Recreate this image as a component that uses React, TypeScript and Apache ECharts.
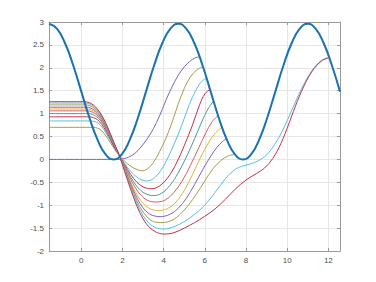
import React, { useEffect, useRef } from "react";
import * as echarts from "echarts";

const X_MIN = -1.5708;
const X_MAX = 12.5664;

const yTicks = { min: -2, max: 3, step: 0.5 };

const blueX = [-1.5708, -1.1781, -0.7854, -0.3927, 0, 0.3927, 0.7854, 1.1781, 1.5708, 1.9635, 2.3562, 2.7489, 3.1416, 3.5343, 3.927, 4.3197, 4.7124, 5.1051, 5.4978, 5.8905, 6.2832, 6.6759, 7.0686, 7.4613, 7.854, 8.2467, 8.6394, 9.0321, 9.4248, 9.8175, 10.2102, 10.6029, 10.9956, 11.3883, 11.781, 12.1737, 12.5664];
const blueY = [2.96, 2.85, 2.53, 2.05, 1.48, 0.91, 0.43, 0.11, 0, 0.11, 0.43, 0.91, 1.48, 2.05, 2.53, 2.85, 2.96, 2.85, 2.53, 2.05, 1.48, 0.91, 0.43, 0.11, 0, 0.11, 0.43, 0.91, 1.48, 2.05, 2.53, 2.85, 2.96, 2.85, 2.53, 2.05, 1.48];

const curve1 = [[-1.5708, 0], [1.75, 0], [2.0, 0.01], [2.3, 0.05], [2.6, 0.13], [2.9, 0.27], [3.2, 0.45], [3.5, 0.67], [3.8, 0.95], [4.1, 1.28], [4.4, 1.58], [4.7, 1.83], [5.0, 2.02], [5.3, 2.15], [5.5, 2.21], [5.74, 2.24]];
const curve2 = [[-1.5708, 0.7], [0.55, 0.7], [0.8, 0.68], [1.0, 0.62], [1.2, 0.51], [1.4, 0.37], [1.6, 0.23], [1.85, 0.08], [2.1, -0.04], [2.4, -0.15], [2.7, -0.22], [2.94, -0.25], [3.2, -0.21], [3.5, -0.07], [3.8, 0.17], [4.1, 0.45], [4.4, 0.8], [4.7, 1.2], [5.0, 1.55], [5.3, 1.8], [5.6, 1.95], [5.9, 2.02]];
const curve3 = [[-1.5708, 0.84], [0.45, 0.84], [0.7, 0.82], [0.9, 0.76], [1.1, 0.65], [1.3, 0.5], [1.5, 0.34], [1.7, 0.19], [1.85, 0.08], [2.1, -0.09], [2.4, -0.26], [2.7, -0.39], [2.95, -0.45], [3.18, -0.47], [3.5, -0.42], [3.85, -0.25], [4.2, 0.03], [4.55, 0.38], [4.9, 0.77], [5.25, 1.2], [5.55, 1.5], [5.8, 1.68], [6.07, 1.78]];
const curve4 = [[-1.5708, 0.93], [0.38, 0.93], [0.6, 0.91], [0.8, 0.86], [1.0, 0.76], [1.2, 0.62], [1.4, 0.45], [1.6, 0.27], [1.85, 0.08], [2.1, -0.11], [2.4, -0.33], [2.7, -0.5], [3.0, -0.6], [3.2, -0.63], [3.43, -0.64], [3.8, -0.58], [4.2, -0.4], [4.6, -0.1], [5.0, 0.3], [5.4, 0.75], [5.75, 1.2], [6.0, 1.43], [6.25, 1.53]];
const curve5 = [[-1.5708, 1.0], [0.33, 1.0], [0.55, 0.98], [0.75, 0.93], [0.95, 0.84], [1.15, 0.7], [1.35, 0.53], [1.6, 0.3], [1.85, 0.08], [2.1, -0.14], [2.4, -0.39], [2.7, -0.59], [3.0, -0.72], [3.3, -0.78], [3.51, -0.79], [3.9, -0.74], [4.3, -0.57], [4.7, -0.3], [5.1, 0.05], [5.5, 0.45], [5.85, 0.82], [6.15, 1.1], [6.42, 1.27]];
const curve6 = [[-1.5708, 1.06], [0.29, 1.06], [0.5, 1.04], [0.7, 0.99], [0.9, 0.9], [1.1, 0.77], [1.3, 0.6], [1.55, 0.37], [1.85, 0.08], [2.1, -0.16], [2.4, -0.44], [2.7, -0.67], [3.0, -0.83], [3.3, -0.91], [3.67, -0.93], [4.1, -0.88], [4.5, -0.72], [4.9, -0.47], [5.3, -0.13], [5.7, 0.25], [6.05, 0.58], [6.35, 0.82], [6.65, 0.96]];
const curve7 = [[-1.5708, 1.1], [0.26, 1.1], [0.48, 1.08], [0.68, 1.03], [0.88, 0.94], [1.08, 0.81], [1.3, 0.63], [1.55, 0.39], [1.85, 0.08], [2.1, -0.18], [2.4, -0.5], [2.7, -0.77], [3.0, -0.96], [3.3, -1.07], [3.55, -1.11], [3.75, -1.12], [4.2, -1.07], [4.6, -0.93], [5.0, -0.68], [5.4, -0.33], [5.8, 0.05], [6.2, 0.38], [6.5, 0.57], [6.83, 0.7]];
const curve8 = [[-1.5708, 1.14], [0.23, 1.14], [0.45, 1.12], [0.65, 1.07], [0.85, 0.98], [1.05, 0.85], [1.25, 0.68], [1.5, 0.44], [1.85, 0.08], [2.1, -0.2], [2.4, -0.54], [2.7, -0.84], [3.0, -1.06], [3.3, -1.19], [3.6, -1.24], [3.83, -1.25], [4.3, -1.2], [4.7, -1.07], [5.1, -0.85], [5.5, -0.55], [5.9, -0.22], [6.3, 0.08], [6.6, 0.27], [6.85, 0.39], [7.05, 0.45]];
const curve9 = [[-1.5708, 1.19], [0.2, 1.19], [0.42, 1.17], [0.62, 1.12], [0.82, 1.03], [1.02, 0.9], [1.22, 0.73], [1.45, 0.5], [1.65, 0.29], [1.85, 0.08], [2.1, -0.22], [2.4, -0.58], [2.7, -0.91], [3.0, -1.15], [3.3, -1.3], [3.6, -1.37], [3.92, -1.38], [4.4, -1.33], [4.8, -1.2], [5.2, -1.0], [5.6, -0.75], [6.0, -0.47], [6.4, -0.2], [6.8, -0.02], [7.1, 0.07], [7.45, 0.11]];
const curve10 = [[-1.5708, 1.23], [0.17, 1.23], [0.4, 1.21], [0.6, 1.16], [0.8, 1.07], [1.0, 0.94], [1.2, 0.77], [1.4, 0.56], [1.6, 0.34], [1.85, 0.08], [2.1, -0.24], [2.4, -0.62], [2.7, -0.96], [3.0, -1.23], [3.3, -1.4], [3.6, -1.49], [4.0, -1.52], [4.5, -1.47], [5.0, -1.36], [5.5, -1.2], [6.0, -1.0], [6.5, -0.72], [7.0, -0.42], [7.4, -0.24], [7.8, -0.15], [8.2, -0.1], [8.6, -0.03], [9.0, 0.1], [9.4, 0.33], [9.8, 0.65], [10.2, 1.05], [10.6, 1.45], [11.0, 1.8], [11.4, 2.05], [11.7, 2.17], [12.0, 2.23]];
const curve11 = [[-1.5708, 1.26], [0.15, 1.26], [0.38, 1.24], [0.58, 1.19], [0.78, 1.1], [0.98, 0.97], [1.18, 0.8], [1.4, 0.57], [1.6, 0.35], [1.85, 0.08], [2.1, -0.26], [2.4, -0.66], [2.7, -1.02], [3.0, -1.3], [3.3, -1.48], [3.6, -1.58], [4.0, -1.63], [4.5, -1.6], [5.0, -1.5], [5.5, -1.38], [6.0, -1.24], [6.5, -1.08], [7.0, -0.87], [7.5, -0.64], [8.0, -0.45], [8.5, -0.31], [8.9, -0.19], [9.3, 0.02], [9.7, 0.35], [10.1, 0.8], [10.5, 1.28], [10.9, 1.68], [11.3, 1.98], [11.7, 2.16], [12.0, 2.21]];

const thinCurves = [curve1, curve2, curve3, curve4, curve5, curve6, curve7, curve8, curve9, curve10, curve11];
const thinColors = ["#7f63b8", "#a59c49", "#58bde8", "#c33249", "#4f9a98", "#d65f5f", "#e6b13a"];
const blueColor = "#1a72b0";

export default function App() {
  const ref = useRef<HTMLDivElement>(null);
  useEffect(() => {
    const chart = echarts.init(ref.current!, null, { renderer: "svg" });
    const axisColor = "#9a9a9a";
    const gridColor = "#e6e6e6";
    const labelStyle = { color: "#4d4d4d", fontSize: 8, fontFamily: "Liberation Sans, Arial, sans-serif" };
    const xCommon = {
      type: "value" as const,
      min: X_MIN,
      max: X_MAX,
      splitNumber: 7,
      axisLine: { show: true, onZero: false, lineStyle: { color: axisColor, width: 1 } },
      axisTick: { show: true, inside: true, length: 3, lineStyle: { color: axisColor } },
    };
    const yCommon = {
      type: "value" as const,
      min: yTicks.min,
      max: yTicks.max,
      interval: yTicks.step,
      axisLine: { show: true, onZero: false, lineStyle: { color: axisColor, width: 1 } },
      axisTick: { show: true, inside: true, length: 3, lineStyle: { color: axisColor } },
    };
    const series: any[] = thinCurves.map((c, i) => ({
      type: "line",
      data: c,
      xAxisIndex: 0,
      yAxisIndex: 0,
      showSymbol: false,
      smooth: 0.35,
      lineStyle: { width: 1, color: thinColors[i % thinColors.length] },
      itemStyle: { color: thinColors[i % thinColors.length] },
      silent: true,
    }));
    series.push({
      type: "line",
      data: blueX.map((x, i) => [x, blueY[i]]),
      xAxisIndex: 0,
      yAxisIndex: 0,
      showSymbol: false,
      smooth: 0.5,
      lineStyle: { width: 2, color: blueColor },
      itemStyle: { color: blueColor },
      silent: true,
      z: 5,
    });
    chart.setOption({
      animation: false,
      grid: { left: 49, right: 36, top: 22, bottom: 31, containLabel: false },
      xAxis: [
        {
          ...xCommon,
          position: "bottom",
          axisLabel: { ...labelStyle, margin: 5, showMinLabel: false, showMaxLabel: false },
          splitLine: { show: true, lineStyle: { color: gridColor, width: 1 } },
        },
        {
          ...xCommon,
          position: "top",
          axisLabel: { show: false },
          splitLine: { show: false },
        },
      ],
      yAxis: [
        {
          ...yCommon,
          position: "left",
          axisLabel: { ...labelStyle, margin: 5 },
          splitLine: { show: true, lineStyle: { color: gridColor, width: 1 } },
        },
        {
          ...yCommon,
          position: "right",
          axisLabel: { show: false },
          splitLine: { show: false },
        },
      ],
      series,
    });
    return () => chart.dispose();
  }, []);
  return (
    <div
      ref={ref}
      style={{ position: "fixed", left: 0, top: 0, width: 376, height: 282, background: "#fff" }}
    />
  );
}
